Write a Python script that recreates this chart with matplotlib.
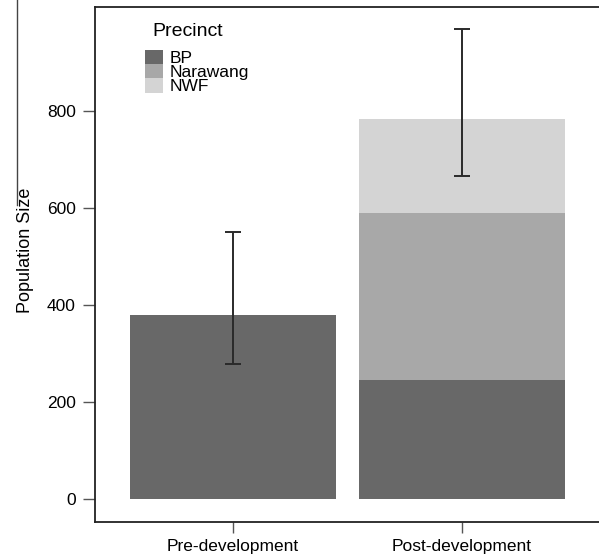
import matplotlib
matplotlib.use("Agg")
import matplotlib.pyplot as plt
from matplotlib.lines import Line2D
import numpy as np

plt.rcParams['font.family'] = ['Liberation Sans', 'DejaVu Sans']

periods = ["Pre-development", "Post-development"]
precincts = ["BP", "Narawang", "NWF"]
bp = [379, 245]
narawang = [0, 345]
nwf = [0, 193]
err_low = [278, 665]
err_high = [551, 968]
yticks = [0, 200, 400, 600, 800]

colors = {"BP": "#686868", "Narawang": "#a8a8a8", "NWF": "#d4d4d4"}

fig = plt.figure(figsize=(5.99, 5.60), dpi=100)
ax = fig.add_axes([95.3/599, 1-522/560, 1-95.3/599, (522-6.5)/560])

x = np.arange(len(periods))
w = 0.9
b1 = ax.bar(x, bp, w, color=colors["BP"], label="BP")
b2 = ax.bar(x, narawang, w, bottom=bp, color=colors["Narawang"], label="Narawang")
bottom3 = np.array(bp) + np.array(narawang)
b3 = ax.bar(x, nwf, w, bottom=bottom3, color=colors["NWF"], label="NWF")

low = np.array(err_low)
high = np.array(err_high)
mid = (low + high) / 2
ax.errorbar(x, mid, yerr=[mid - low, high - mid], fmt='none', ecolor='#2a2a2a',
            elinewidth=1.4, capsize=5.6, capthick=1.4, zorder=5)

ax.set_xlim(-0.6, 1.6)
ax.set_ylim(-47, 1015)
ax.set_xticks(x)
ax.set_xticklabels(periods, fontsize=12.5)
ax.set_yticks(yticks)
ax.set_yticklabels([str(v) for v in yticks], fontsize=12.5)
ax.tick_params(axis='both', direction='out', length=9, width=1.0, color='#555555', pad=5)
ax.tick_params(axis='x', length=8, pad=4)

for s in ['left', 'bottom', 'top']:
    ax.spines[s].set_color('#222222')
    ax.spines[s].set_linewidth(1.3)
ax.spines['right'].set_visible(False)

ax.set_ylabel("Population Size", fontsize=13)
ax.yaxis.set_label_coords(-0.122, 0.528)

fig.text(152/599, 1 - 31/560, "Precinct", fontsize=14, ha='left', va='center')

leg = ax.legend(handles=[b1, b2, b3], labels=precincts,
                loc='upper left', bbox_to_anchor=((145 - 95.3)/503.7, (522 - 50)/515.5),
                frameon=False, fontsize=12.5, labelspacing=-0.12,
                handlelength=1.05, handleheight=0.9, handletextpad=0.35,
                borderaxespad=0, borderpad=0)

fig.add_artist(Line2D([17/599, 17/599], [1.0, 1 - 205/560], color='#444444', linewidth=1.0))

fig.savefig("out.png", dpi=100)
